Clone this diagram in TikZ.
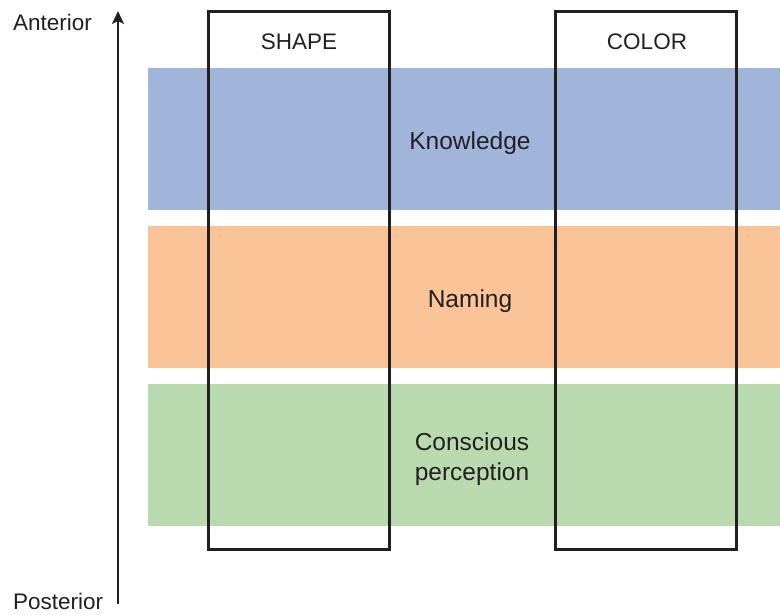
\documentclass[tikz,border=0pt]{standalone}
\usepackage{fontspec}
\setmainfont{Liberation Sans}
\usetikzlibrary{arrows.meta}
\definecolor{knowblue}{HTML}{A1B5DB}
\definecolor{nameorange}{HTML}{FAC398}
\definecolor{percgreen}{HTML}{B9DAAE}
\definecolor{inkdark}{HTML}{231F20}
\begin{document}
\begin{tikzpicture}[x=1pt,y=-1pt,font=\fontsize{24.5}{30}\selectfont,text=inkdark]
	\def\L{148}
	\def\R{780}
	\def\Hb{142}
	\tikzset{column/.style={draw=inkdark,line width=3pt},
		axislabel/.style={font=\fontsize{22.5}{27}\selectfont,anchor=west,inner sep=0pt}}

	\useasboundingbox (0,0) rectangle (780,614);

	% bands
	\fill[knowblue]		(\L,68) rectangle ++(\R-\L,\Hb);
	\fill[nameorange]	(\L,226) rectangle ++(\R-\L,\Hb);
	\fill[percgreen]	(\L,384) rectangle ++(\R-\L,\Hb);

	\node (know) at (470,143) {Knowledge};
	\node (name) at (470,301) {Naming};
	\node[align=center] (perc) at (472,459) {Conscious\\perception};

	% columns
	\draw[column]	(208.5,11.5) rectangle (389.5,549.5);
	\draw[column]	(555.5,11.5) rectangle (736.5,549.5);
	\node[font=\fontsize{22.5}{27}\selectfont] (shape) at (299,42) {SHAPE};
	\node[font=\fontsize{22.5}{27}\selectfont] (color) at (647,42) {COLOR};

	% axis
	\node[axislabel] (ant) at (13,22) {Anterior};
	\node[axislabel] (post) at (13,601) {Posterior};
	\coordinate (bot) at (118,604);
	\coordinate (top) at (118,11);
	\draw[-{Stealth[length=13pt,width=12pt,inset=3pt]},line width=2.2pt,draw=inkdark] (bot) -- (top);
\end{tikzpicture}
\end{document}
